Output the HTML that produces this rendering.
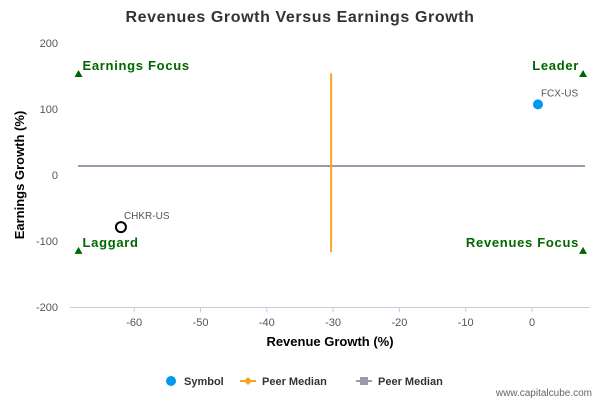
<!DOCTYPE html>
<html><head><meta charset="utf-8"><style>
body{margin:0;background:#fff;width:600px;height:400px;overflow:hidden;font-family:"Liberation Sans",sans-serif}
</style></head><body>
<svg width="600" height="400" font-family="Liberation Sans, sans-serif">
<text x="300" y="22" text-anchor="middle" font-size="16" letter-spacing="0.6" font-weight="bold" fill="#333">Revenues Growth Versus Earnings Growth</text>
<g id="grid"></g><g id="marks"></g>
<text x="0" y="0" transform="translate(24,175) rotate(-90)" text-anchor="middle" font-size="13" font-weight="bold" fill="#000">Earnings Growth (%)</text>
<text x="330" y="346" text-anchor="middle" font-size="13" font-weight="bold" fill="#000">Revenue Growth (%)</text>
<g font-size="11" font-weight="bold" fill="#333">
<g><circle cx="171" cy="381" r="5" fill="#0099ee"/><text x="184" y="385">Symbol</text></g>
<g><line x1="240" y1="381" x2="256" y2="381" stroke="#f6a623" stroke-width="2"/><path d="M248,377 L252,381 L248,385 L244,381Z" fill="#f6a623"/><text x="262" y="385">Peer Median</text></g>
<g><line x1="356" y1="381" x2="372" y2="381" stroke="#9a9aa8" stroke-width="2"/><rect x="360" y="377" width="8" height="8" fill="#9a9aa8"/><text x="378" y="385">Peer Median</text></g>
</g>
<text x="592" y="396" text-anchor="end" font-size="10" fill="#666">www.capitalcube.com</text>
</svg>
<script>
const xTicks=[-60,-50,-40,-30,-20,-10,0];
const yTicks=[200,100,0,-100,-200];
const symbolNames=["FCX-US","CHKR-US"];
const symbolRev=[0.9,-62];
const symbolEarn=[107,-79];
const peerMedianRev=-30.3;
const peerMedianEarn=13.6;
const vLineRange=[154,-117];
const quadrantLabels=["Earnings Focus","Leader","Laggard","Revenues Focus"];
const X=v=>532+v*6.63, Y=v=>175-v*0.66;
const ns="http://www.w3.org/2000/svg";
function mk(p,t,a){const e=document.createElementNS(ns,t);for(const k in a)e.setAttribute(k,a[k]);p.appendChild(e);return e;}
const g=document.getElementById('grid'), m=document.getElementById('marks');
const ax=mk(g,'line',{x1:70,y1:307.5,x2:590,y2:307.5,stroke:'#c0d0e0'});


xTicks.forEach(v=>{const t=mk(g,'text',{x:X(v),y:326,'text-anchor':'middle','font-size':11,fill:'#555'});t.textContent=v;


const k=mk(g,'line',{x1:X(v),y1:307,x2:X(v),y2:312,stroke:'#c0d0e0'});

});
yTicks.forEach(v=>{const t=mk(g,'text',{x:58,y:Y(v)+4,'text-anchor':'end','font-size':11,fill:'#555'});t.textContent=v;

});
const h=mk(m,'line',{x1:78,y1:Y(peerMedianEarn),x2:585,y2:Y(peerMedianEarn),stroke:'#9a9aa8',"stroke-width":2});


const vl=mk(m,'line',{x1:X(peerMedianRev),y1:Y(vLineRange[0]),x2:X(peerMedianRev),y2:Y(vLineRange[1]),stroke:'#f6a623',"stroke-width":2});


const qx=[-68.4,7.7,-68.4,7.7], qy=[153,153,-115,-115];
quadrantLabels.forEach((s,i)=>{const px=X(qx[i]),py=Y(qy[i]);
const tr=mk(m,'path',{d:`M${px},${py-4} L${px+4},${py+3} L${px-4},${py+3}Z`,fill:'#006600'});


const left=i%2==0;const t=mk(m,'text',{x:left?px+4:px-4,y:py-4,'text-anchor':left?'start':'end','font-size':13,'letter-spacing':0.7,'font-weight':'bold',fill:'#006600'});t.textContent=s;

});
symbolNames.forEach((s,i)=>{const px=X(symbolRev[i]),py=Y(symbolEarn[i]);
const c=mk(m,'circle',i==0?{cx:px,cy:py,r:5,fill:'#0099ee'}:{cx:px,cy:py,r:5,fill:'#fff',stroke:'#000','stroke-width':2});


const t=mk(m,'text',{x:px+3,y:py-8,'font-size':10,fill:'#555'});t.textContent=s;

});
</script>
</body></html>
